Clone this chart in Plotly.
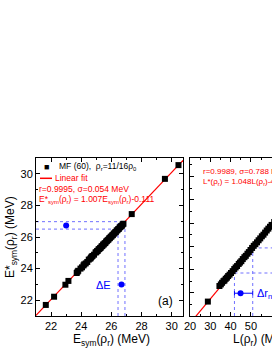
import plotly.graph_objects as go

# ---------------- data ----------------
# panel (a): E_sym(rho_r) vs E*_sym(rho_r), MF (60)
esym = [21.65, 22.20, 22.95, 23.15, 23.70, 23.75, 23.80, 23.95, 24.05, 24.15,
        24.20, 24.30, 24.40, 24.50, 24.60, 24.65, 24.70, 24.75, 24.85, 24.95,
        25.00, 25.05, 25.10, 25.15, 25.20, 25.25, 25.30, 25.35, 25.40, 25.45,
        25.50, 25.55, 25.60, 25.65, 25.70, 25.75, 25.80, 25.85, 25.90, 25.95,
        26.00, 26.05, 26.10, 26.15, 26.20, 26.25, 26.30, 26.35, 26.40, 26.45,
        26.50, 26.55, 26.60, 26.65, 26.70, 26.75, 26.80, 27.35, 29.55, 30.45]
esym_star = [21.70, 22.22, 22.98, 23.22, 23.72, 23.80, 23.86, 24.00, 24.08, 24.20,
             24.27, 24.33, 24.42, 24.57, 24.63, 24.70, 24.76, 24.80, 24.88, 25.02,
             25.04, 25.11, 25.13, 25.22, 25.24, 25.30, 25.33, 25.41, 25.43, 25.52,
             25.53, 25.60, 25.62, 25.71, 25.74, 25.80, 25.83, 25.91, 25.93, 26.01,
             26.03, 26.10, 26.12, 26.21, 26.23, 26.30, 26.32, 26.41, 26.43, 26.50,
             26.52, 26.61, 26.63, 26.70, 26.72, 26.80, 26.84, 27.45, 29.68, 30.55]
fit_a = dict(slope=1.007, intercept=-0.111)
dE_band_x = [26.44, 26.90]     # E_sym band
dE_band_y = [26.50, 26.97]     # E*_sym band
dE_point1 = (23.0, 26.73)
dE_point2 = (26.67, 23.0)

# panel (b): L(rho_r) vs L*(rho_r)
L = [28.8, 34.5, 35.2, 35.8, 36.5, 37.0, 37.6, 38.2, 38.8, 39.5,
     40.2, 41.0, 41.8, 42.5, 43.2, 44.0, 44.6, 45.3, 46.0, 46.8,
     47.5, 48.3, 49.0, 49.8, 50.6, 51.4, 52.2, 53.0, 53.8, 54.6,
     55.4, 56.2, 57.0, 57.8, 58.6, 59.4, 60.2, 61.5, 63.0]
L_star = [26.2, 32.9, 33.6, 34.3, 35.0, 35.3, 36.0, 36.5, 37.2, 37.8,
          38.5, 39.3, 40.2, 40.9, 41.5, 42.4, 43.0, 43.6, 44.5, 45.3,
          45.9, 46.8, 47.5, 48.4, 49.3, 50.2, 50.9, 51.7, 52.6, 53.4,
          54.3, 55.0, 55.9, 56.8, 57.6, 58.4, 59.2, 60.5, 62.1]
fit_b = dict(slope=1.048, intercept=-4.1)
drnp_band_x = [41.9, 50.9]
drnp_band_y = [38.5, 49.3]
drnp_point = (44.9, 29.8)

# axis ranges
xr_a = [21, 30.75]
yr_a = [21, 31]
xr_b = [20, 60.4]
yr_b = [20, 88]

# ---------------- figure ----------------
W, H = 272, 352
def px(x): return x / W
def py(y): return 1 - y / H

FONT = "Liberation Sans, Arial, sans-serif"
BLUE = "#0000ff"
BLUE_L = "#7070ff"

fig = go.Figure()

# fit line (a)
fx = [xr_a[0], xr_a[1]]
fig.add_trace(go.Scatter(x=fx, y=[fit_a["slope"] * v + fit_a["intercept"] for v in fx],
                         mode="lines", line=dict(color="red", width=1.2),
                         xaxis="x", yaxis="y"))
# dotted bands (a)
for yv in dE_band_y:
    fig.add_trace(go.Scatter(x=[xr_a[0], dE_band_x[1]], y=[yv, yv], mode="lines",
                             line=dict(color=BLUE_L, width=1, dash="dot"),
                             xaxis="x", yaxis="y"))
for xv in dE_band_x:
    fig.add_trace(go.Scatter(x=[xv, xv], y=[yr_a[0], dE_band_y[1]], mode="lines",
                             line=dict(color=BLUE_L, width=1, dash="dot"),
                             xaxis="x", yaxis="y"))
# data (a)
fig.add_trace(go.Scatter(x=esym, y=esym_star, mode="markers",
                         marker=dict(symbol="square", size=6, color="black"),
                         xaxis="x", yaxis="y"))
fig.add_trace(go.Scatter(x=[dE_point1[0], dE_point2[0]], y=[dE_point1[1], dE_point2[1]],
                         mode="markers", marker=dict(symbol="circle", size=6, color=BLUE),
                         xaxis="x", yaxis="y"))

# fit line (b)
gx = [xr_b[0], xr_b[1]]
fig.add_trace(go.Scatter(x=gx, y=[fit_b["slope"] * v + fit_b["intercept"] for v in gx],
                         mode="lines", line=dict(color="red", width=1.2),
                         xaxis="x2", yaxis="y2"))
for xv, yv in zip(drnp_band_x, drnp_band_y):
    fig.add_trace(go.Scatter(x=[xv, xr_b[1]], y=[yv, yv], mode="lines",
                             line=dict(color=BLUE_L, width=1, dash="dot"),
                             xaxis="x2", yaxis="y2"))
    fig.add_trace(go.Scatter(x=[xv, xv], y=[yr_b[0], yv], mode="lines",
                             line=dict(color=BLUE_L, width=1, dash="dot"),
                             xaxis="x2", yaxis="y2"))
fig.add_trace(go.Scatter(x=L, y=L_star, mode="markers",
                         marker=dict(symbol="square", size=6, color="black"),
                         xaxis="x2", yaxis="y2"))
fig.add_trace(go.Scatter(x=[drnp_point[0]], y=[drnp_point[1]], mode="markers",
                         marker=dict(symbol="circle", size=6, color=BLUE),
                         error_x=dict(type="data", symmetric=False,
                                      array=[drnp_band_x[1] - drnp_point[0]],
                                      arrayminus=[drnp_point[0] - drnp_band_x[0]],
                                      color=BLUE, thickness=1, width=2),
                         xaxis="x2", yaxis="y2"))

axis_common = dict(showline=True, linecolor="black", linewidth=1, ticks="inside",
                   ticklen=4, tickcolor="black", showgrid=False, zeroline=False,
                   automargin=False,
                   tickfont=dict(family=FONT, size=11, color="black"))

fig.update_layout(
    template="none",
    width=W, height=H, margin=dict(l=0, r=0, t=0, b=0, pad=0, autoexpand=False),
    paper_bgcolor="white", plot_bgcolor="white", showlegend=False,
    hovermode=False,
    xaxis=dict(domain=[px(36), px(183)], range=xr_a, anchor="y", dtick=2, tick0=22,
               mirror="ticks", minor=dict(ticks="inside", ticklen=2, dtick=1, tickcolor="black"),
               **axis_common),
    yaxis=dict(domain=[py(316), py(158)], range=yr_a, anchor="x", dtick=2, tick0=22,
               mirror="ticks", minor=dict(ticks="inside", ticklen=2, dtick=1, tickcolor="black"),
               **axis_common),
    xaxis2=dict(domain=[px(190), 1], range=xr_b, anchor="y2", dtick=10, tick0=20,
                mirror="ticks", minor=dict(ticks="inside", ticklen=2, dtick=5, tickcolor="black"),
                **axis_common),
    yaxis2=dict(domain=[py(316), py(158)], range=yr_b, anchor="x2", dtick=10, tick0=20,
                showticklabels=False, mirror=False,
                minor=dict(ticks="inside", ticklen=2, dtick=5, tickcolor="black"),
                **axis_common),
)

def ann(text, x, y, size=8, color="black", xanchor="left", **kw):
    fig.add_annotation(text=text, x=px(x), y=py(y), xref="paper", yref="paper",
                       showarrow=False, xanchor=xanchor, yanchor="middle",
                       font=dict(family=FONT, size=size, color=color), **kw)

# legend-like texts panel (a)
ann("■", 46.7, 166.5, size=9, xanchor="center")
ann("MF (60),  ρ<sub>r</sub>=11/16ρ<sub>0</sub>", 57, 166.5, size=8.5)
fig.add_shape(type="line", xref="paper", yref="paper", x0=px(40), x1=px(52),
              y0=py(178.3), y1=py(178.3), line=dict(color="red", width=1.5))
ann("Linear fit", 53, 178.3, size=8.5, color="red")
ann("r=0.9995, σ=0.054 MeV", 37, 188.5, size=8.5, color="red")
ann("E*<sub>sym</sub>(ρ<sub>r</sub>) = 1.007E<sub>sym</sub>(ρ<sub>r</sub>)-0.111", 37, 199.5,
    size=8.5, color="red")
ann("ΔE", 112.5, 285, size=11, color=BLUE, xanchor="right")
ann("(a)", 165, 301, size=12, xanchor="center")

# axis titles panel (a)
ann("E<sub>sym</sub>(ρ<sub>r</sub>) (MeV)", 111.5, 340, size=12, xanchor="center")
ann("E*<sub>sym</sub>(ρ<sub>r</sub>) (MeV)", 11, 237, size=12, xanchor="center", textangle=-90)

# panel (b) texts
ann("r=0.9989, σ=0.788 MeV", 201, 171, size=8, color="red")
ann("L*(ρ<sub>r</sub>) = 1.048L(ρ<sub>r</sub>)-4.11", 201, 181.5, size=8, color="red")
ann("Δr<sub>np</sub>", 255, 293.5, size=11, color=BLUE)
ann("L(ρ<sub>r</sub>) (MeV)", 231, 340, size=12)

fig.write_html("out.html", config={"displayModeBar": False, "staticPlot": True},
               post_script="document.body.style.margin='0';document.body.style.overflow='hidden';")
